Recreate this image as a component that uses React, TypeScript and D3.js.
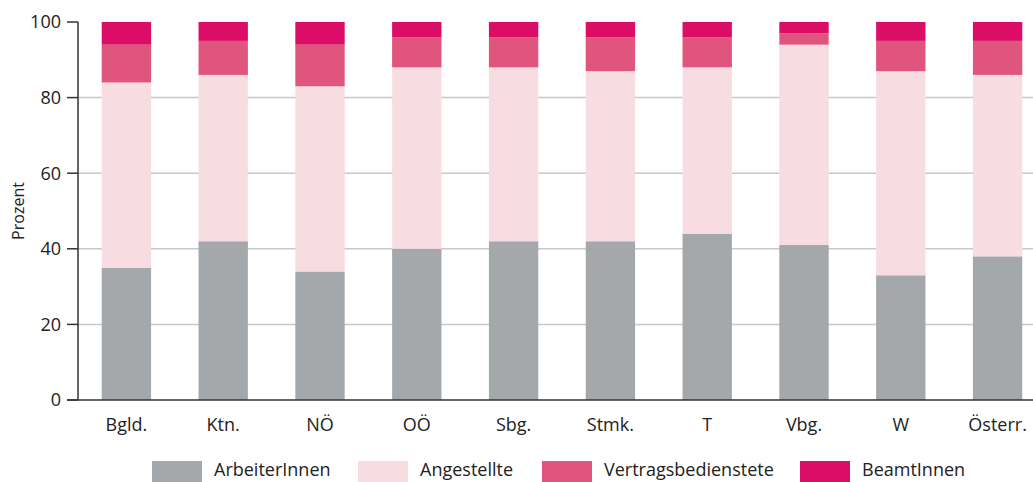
import React from "react";
import * as d3 from "d3";

const categories = ["Bgld.", "Ktn.", "NÖ", "OÖ", "Sbg.", "Stmk.", "T", "Vbg.", "W", "Österr."];
const seriesNames = ["ArbeiterInnen", "Angestellte", "Vertragsbedienstete", "BeamtInnen"];
const arbeiter = [35, 42, 34, 40, 42, 42, 44, 41, 33, 38];
const angestellte = [49, 44, 49, 48, 46, 45, 44, 53, 54, 48];
const vertrags = [10, 9, 11, 8, 8, 9, 8, 3, 8, 9];
const beamt = [6, 5, 6, 4, 4, 4, 4, 3, 5, 5];
const yTicks = [0, 20, 40, 60, 80, 100];
const colors = ["#a5a8ab", "#f7dce2", "#e0557e", "#db0d66"];

const W = 1033;
const H = 482;
const FONT = "'Open Sans', sans-serif";

export default function App() {
  const left = 78;
  const top = 22;
  const bottom = 400;
  const x = d3.scaleBand<string>().domain(categories).range([left, left + 968]).paddingInner(0.49).paddingOuter(0.245);
  const y = d3.scaleLinear().domain([0, 100]).range([bottom, top]);

  const rows = categories.map((c, i) => ({
    cat: c,
    ArbeiterInnen: arbeiter[i],
    Angestellte: angestellte[i],
    Vertragsbedienstete: vertrags[i],
    BeamtInnen: beamt[i],
  }));
  const stacked = d3.stack<any>().keys(seriesNames)(rows);

  const legendX = [152, 358, 542, 800];

  return (
    <svg width={W} height={H} style={{ position: "absolute", left: 0, top: 0 }}>
      {yTicks.filter((t) => t > 0 && t < 100).map((t) => (
        <line key={"g" + t} x1={left} x2={W} y1={y(t)} y2={y(t)} stroke="#c8c8c8" strokeWidth={1.5} />
      ))}
      {stacked.map((s, si) => (
        <g key={s.key} fill={colors[si]}>
          {s.map((d, i) => (
            <rect key={i} x={x(categories[i])} width={x.bandwidth()} y={y(d[1])} height={y(d[0]) - y(d[1])} />
          ))}
        </g>
      ))}
      <line x1={left} x2={left} y1={top} y2={bottom} stroke="#333" strokeWidth={1.5} />
      <line x1={left - 11} x2={W} y1={bottom} y2={bottom} stroke="#333" strokeWidth={1.5} />
      {yTicks.map((t) => (
        <g key={"t" + t}>
          <line x1={left - 11} x2={left} y1={y(t)} y2={y(t)} stroke="#333" strokeWidth={1.5} />
          <text x={left - 17} y={y(t)} dy="0.35em" textAnchor="end" fontFamily={FONT} fontSize={18} fill="#222">
            {t}
          </text>
        </g>
      ))}
      {categories.map((c) => (
        <text key={c} x={(x(c) as number) + x.bandwidth() / 2} y={431} textAnchor="middle" fontFamily={FONT} fontSize={18} fill="#222">
          {c}
        </text>
      ))}
      <text transform={`translate(24,${y(50)}) rotate(-90)`} textAnchor="middle" fontFamily={FONT} fontSize={16} fill="#222">
        Prozent
      </text>
      {seriesNames.map((n, i) => (
        <g key={n}>
          <rect x={legendX[i]} y={461} width={50} height={22} fill={colors[i]} />
          <text x={legendX[i] + 62} y={476} fontFamily={FONT} fontSize={18} fill="#222">
            {n}
          </text>
        </g>
      ))}
    </svg>
  );
}
